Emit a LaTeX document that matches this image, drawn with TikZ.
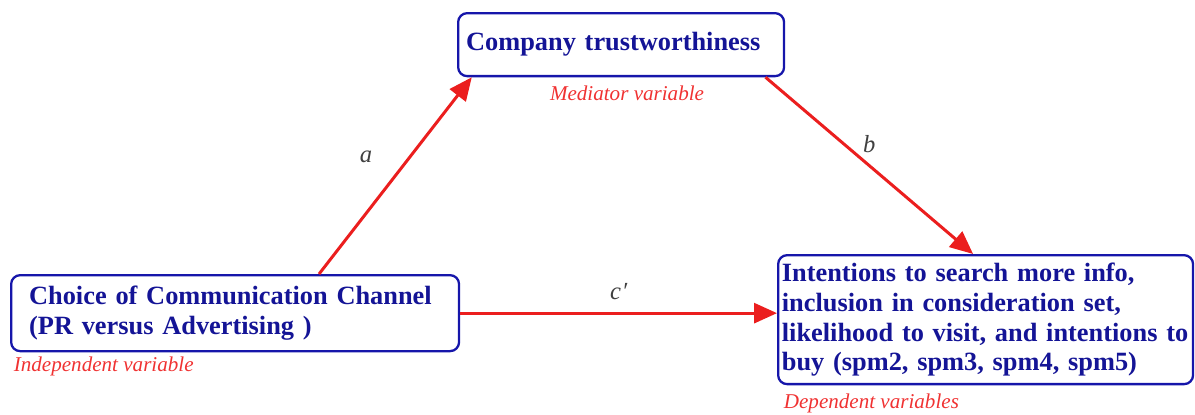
\documentclass[tikz,border=0pt]{standalone}
\usepackage{fontspec}
\setmainfont{Liberation Serif}
\usetikzlibrary{arrows.meta,positioning,calc}

\definecolor{boxblue}{RGB}{22,22,170}
\definecolor{textblue}{RGB}{20,20,150}
\definecolor{arrowred}{RGB}{235,30,30}
\definecolor{labelred}{RGB}{240,50,50}

\tikzset{
    varbox/.style={draw=boxblue, line width=1.3pt, rounded corners=0.18cm, anchor=north west,
        align=left, text=textblue, font=\fontsize{15}{17}\selectfont\bfseries},
    varlabel/.style={text=labelred, font=\fontsize{12}{14}\selectfont\itshape, inner sep=2pt},
    pathlabel/.style={text=black!75, font=\fontsize{14}{16}\selectfont\itshape, inner sep=1pt},
    effect/.style={draw=arrowred, line width=1.7pt, -{Triangle[length=0.46cm,width=0.4cm]}}
}

\begin{document}
\begin{tikzpicture}[x=0.02cm,y=-0.02cm]
        % Keep the size of the reference
        \useasboundingbox (0,0) rectangle (1195,414);
        % Draw mediator box
        \node[varbox, minimum width=6.52cm, minimum height=1.26cm, inner xsep=0.16cm, text width=6.2cm] (company) at (457,12) {Company trustworthiness};
        % Draw independent variable box
        \node[varbox, minimum width=8.96cm, minimum height=1.52cm, inner xsep=0.36cm, text width=8.24cm] (choice) at (10,274) {Choice of Communication Channel\\(PR versus Advertising )};
        % Draw dependent variables box
        \node[varbox, minimum width=8.3cm, minimum height=2.58cm, inner xsep=0.075cm, text width=8.15cm] (outcome) at (777,254) {Intentions to search more info,\\inclusion in consideration set,\\likelihood to visit, and intentions to\\buy (spm2, spm3, spm4, spm5)};
        % Draw variable labels
        \node[varlabel] (medlabel) at (627,93) {Mediator variable};
        \node[varlabel, anchor=west] (indlabel) at (10,366) {Independent variable};
        \node[varlabel, anchor=west] (deplabel) at (780,403) {Dependent variables};
        % Draw paths
        \draw[effect] (choice.25.7) -- ($(company.south west)!0.045!(company.south east)$)
            node[pathlabel, midway, above left=0.2cm and 0.4cm] (patha) {a};
        \draw[effect] ($(company.south west)!0.94!(company.south east)$) -- ($(outcome.north west)!0.47!(outcome.north east)$)
            node[pathlabel, midway, above=0.2cm] (pathb) {b};
        \draw[effect] (choice.east) -- (choice.east -| outcome.west)
            node[pathlabel, midway, above=0.2cm] (pathc) {c\kern0.5pt′};
    \end{tikzpicture}
\end{document}
